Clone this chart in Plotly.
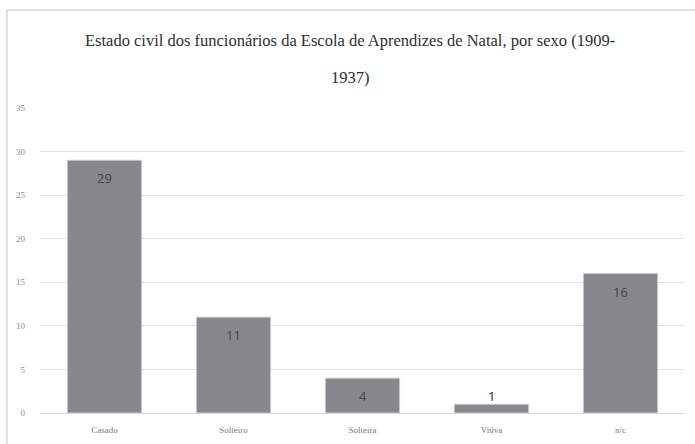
import plotly.graph_objs as go

categorias = ["Casado", "Solteiro", "Solteira", "Viúva", "n/c"]
valores = [29, 11, 4, 1, 16]
titulo_1 = "Estado civil dos funcionários da Escola de Aprendizes de Natal, por sexo (1909-"
titulo_2 = "1937)"

serif = "Liberation Serif"

fig = go.Figure()
fig.add_trace(go.Bar(
    x=categorias, y=valores,
    marker=dict(color="#87888c", line=dict(color="#c9c9cb", width=1)),
    hoverinfo="x+y",
))

# rotulos dos valores: dentro da barra, ou acima quando a barra e baixa
for cat, val in zip(categorias, valores):
    dentro = val >= 3
    fig.add_annotation(
        x=cat, y=val, text=str(val), showarrow=False,
        yanchor="middle", yshift=-18 if dentro else 8,
        font=dict(family="Open Sans", size=13,
                  color="#444444" if dentro else "#222222"),
    )

fig.add_annotation(xref="paper", yref="paper", x=0.481, y=1.0, yshift=68,
                   text=titulo_1, showarrow=False, yanchor="middle",
                   font=dict(family=serif, size=16.5, color="#2e2e2e"))
fig.add_annotation(xref="paper", yref="paper", x=0.481, y=1.0, yshift=31,
                   text=titulo_2, showarrow=False, yanchor="middle",
                   font=dict(family=serif, size=16.5, color="#2e2e2e"))

# moldura cinza clara
fig.add_shape(type="rect", xref="paper", yref="paper",
              x0=-0.0512, x1=1.1, y0=-0.2, y1=1.321,
              line=dict(color="#d6d6d6", width=1.5))

fig.update_layout(
    width=695, height=444,
    margin=dict(l=40, r=10, t=108, b=31),
    paper_bgcolor="white", plot_bgcolor="white",
    bargap=0.425, showlegend=False,
    xaxis=dict(showline=True, linecolor="#d9d9d9", linewidth=1, ticks="",
               ticklabelstandoff=8,
               tickfont=dict(family=serif, size=9, color="#7a7a7a")),
    yaxis=dict(range=[0, 35], dtick=5, showgrid=True, gridcolor="#e2e2e2",
               zeroline=False, ticks="", ticklabelstandoff=14,
               tickfont=dict(family=serif, size=9, color="#8a8a8a")),
)

fig.write_html("out.html", config={"displayModeBar": False},
               post_script="document.body.style.margin='0';")
